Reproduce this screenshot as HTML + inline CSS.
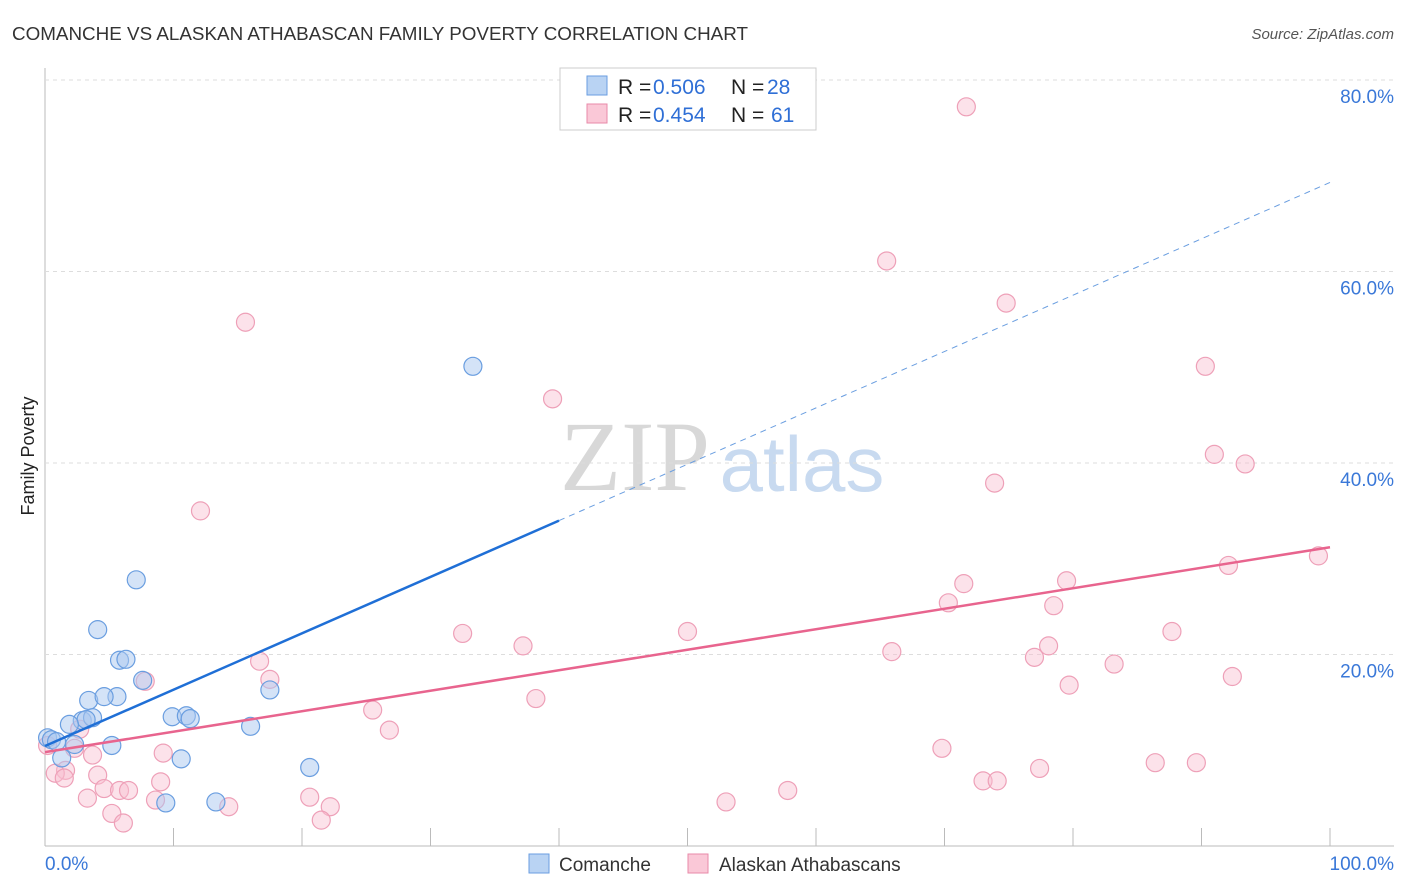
<!DOCTYPE html>
<html><head><meta charset="utf-8"><style>
body{margin:0;background:#fff;font-family:"Liberation Sans",sans-serif}
#wrap{position:relative;width:1406px;height:892px;overflow:hidden}
</style></head><body><div id="wrap">
<svg id="svg" width="1406" height="892" xmlns="http://www.w3.org/2000/svg">
<text x="12" y="40" font-size="18" fill="#333" textLength="736" lengthAdjust="spacingAndGlyphs">COMANCHE VS ALASKAN ATHABASCAN FAMILY POVERTY CORRELATION CHART</text>
<text x="1394" y="39" font-size="15" fill="#555" font-style="italic" text-anchor="end">Source: ZipAtlas.com</text>
<text x="34" y="456" font-size="18" fill="#222" text-anchor="middle" transform="rotate(-90 34 456)">Family Poverty</text>
<text x="635" y="490" font-size="100" fill="#d8d8d8" font-family="Liberation Serif,serif" text-anchor="middle">ZIP</text>
<text x="802" y="491" font-size="78" fill="#c8daf0" text-anchor="middle">atlas</text>
<g id="grid"></g><g id="pts"></g><g id="lines"></g>
<g>
<rect x="560" y="68" width="256" height="62" fill="#fff" stroke="#ccc"/>
<rect x="587" y="76" width="20" height="19" fill="#b9d3f3" stroke="#6a9ee0"/>
<rect x="587" y="104" width="20" height="19" fill="#fac8d7" stroke="#e88aa8"/>
<g font-size="21">
<text x="618" y="94" fill="#222">R =</text><text x="653" y="94" fill="#2f6fd6">0.506</text>
<text x="731" y="94" fill="#222">N =</text><text x="767" y="94" fill="#2f6fd6">28</text></g>
<g font-size="21">
<text x="618" y="122" fill="#222">R =</text><text x="653" y="122" fill="#2f6fd6">0.454</text>
<text x="731" y="122" fill="#222">N =</text><text x="771" y="122" fill="#2f6fd6">61</text></g>
</g>
<g>
<rect x="529" y="854" width="20" height="19" fill="#b9d3f3" stroke="#6a9ee0"/>
<text x="559" y="871" font-size="19" fill="#333">Comanche</text>
<rect x="688" y="854" width="20" height="19" fill="#fac8d7" stroke="#e88aa8"/>
<text x="719" y="871" font-size="19" fill="#333">Alaskan Athabascans</text>
</g>
<text x="45" y="870" font-size="19" fill="#3a78d8">0.0%</text>
<text x="1394" y="870" font-size="19" fill="#3a78d8" text-anchor="end">100.0%</text>
</svg>
<script>
const blueX=[33.3,7.1,4.1,5.8,6.3,7.6,3.4,5.6,4.6,2.9,3.7,3.2,1.9,9.9,11.0,11.3,17.5,16.0,5.2,2.3,0.2,0.5,0.9,1.3,10.6,20.6,9.4,13.3];
const blueY=[50.1,27.8,22.6,19.4,19.5,17.3,15.2,15.6,15.6,13.1,13.4,13.2,12.7,13.5,13.6,13.3,16.3,12.5,10.5,10.6,11.3,11.1,10.9,9.2,9.1,8.2,4.5,4.6];
const pinkX=[71.7,65.5,74.8,15.6,90.3,39.5,91.0,93.4,73.9,12.1,71.5,79.5,92.1,99.1,70.3,78.5,32.5,50.0,87.7,37.2,78.1,65.9,77.0,83.2,92.4,79.7,16.7,17.5,7.8,38.2,25.5,26.8,2.7,69.8,9.2,2.3,3.7,0.2,1.6,0.8,4.1,77.4,86.4,89.6,73.0,74.1,9.0,4.6,5.8,6.5,3.3,8.6,14.3,20.6,22.2,53.0,57.8,5.2,6.1,21.5,1.5];
const pinkY=[77.2,61.1,56.7,54.7,50.1,46.7,40.9,39.9,37.9,35.0,27.4,27.7,29.3,30.3,25.4,25.1,22.2,22.4,22.4,20.9,20.9,20.3,19.7,19.0,17.7,16.8,19.3,17.4,17.2,15.4,14.2,12.1,12.2,10.2,9.7,10.2,9.5,10.5,7.9,7.6,7.4,8.1,8.7,8.7,6.8,6.8,6.7,6.0,5.8,5.8,5.0,4.8,4.1,5.1,4.1,4.6,5.8,3.4,2.4,2.7,7.1];
const blueTrend=[10.44,69.3];
const pinkTrend=[9.8,31.2];
const yTicks=[20,40,60,80];
const xTicks=[0,10,20,30,40,50,60,70,80,90,100];
const X=v=>45+v*12.85, Y=v=>846-v*9.575;
const NS='http://www.w3.org/2000/svg';
function mk(t,a,p){const e=document.createElementNS(NS,t);for(const k in a)e.setAttribute(k,a[k]);p.appendChild(e);return e;}
const grid=document.getElementById('grid');
let ax=mk('line',{x1:45,y1:68,x2:45,y2:846,stroke:'#bbb'},grid);


let bx=mk('line',{x1:45,y1:846,x2:1394,y2:846,stroke:'#bbb'},grid);


yTicks.forEach(t=>{
 const g=mk('line',{x1:45,y1:Y(t),x2:1394,y2:Y(t),stroke:'#ddd','stroke-dasharray':'4 4'},grid);
 
 
 const l=mk('text',{x:1394,y:Y(t)+23,'font-size':19,fill:'#3a78d8','text-anchor':'end'},grid);l.textContent=t.toFixed(1)+'%';
 
 
});
xTicks.forEach(t=>{
 const k=mk('line',{x1:X(t),y1:828,x2:X(t),y2:846,stroke:'#bbb'},grid);
 
 
});
const pts=document.getElementById('pts');
pinkX.forEach((x,i)=>{const c=mk('circle',{cx:X(x),cy:Y(pinkY[i]),r:9,fill:'rgba(248,190,208,0.45)',stroke:'#eea0b8','stroke-width':1.2},pts);
 
 });
blueX.forEach((x,i)=>{const c=mk('circle',{cx:X(x),cy:Y(blueY[i]),r:9,fill:'rgba(170,200,240,0.5)',stroke:'#6a9ee0','stroke-width':1.2},pts);
 
 });
const lines=document.getElementById('lines');
const by=x=>blueTrend[0]+(blueTrend[1]-blueTrend[0])*x/100;
let l1=mk('line',{x1:X(0),y1:Y(by(0)),x2:X(40),y2:Y(by(40)),stroke:'#1f6fd6','stroke-width':2.5},lines);


let l2=mk('line',{x1:X(40),y1:Y(by(40)),x2:X(100),y2:Y(by(100)),stroke:'#6a9ee0','stroke-width':1,'stroke-dasharray':'6 5'},lines);


let l3=mk('line',{x1:X(0),y1:Y(pinkTrend[0]),x2:X(100),y2:Y(pinkTrend[1]),stroke:'#e8648e','stroke-width':2.5},lines);


</script>
</div></body></html>
